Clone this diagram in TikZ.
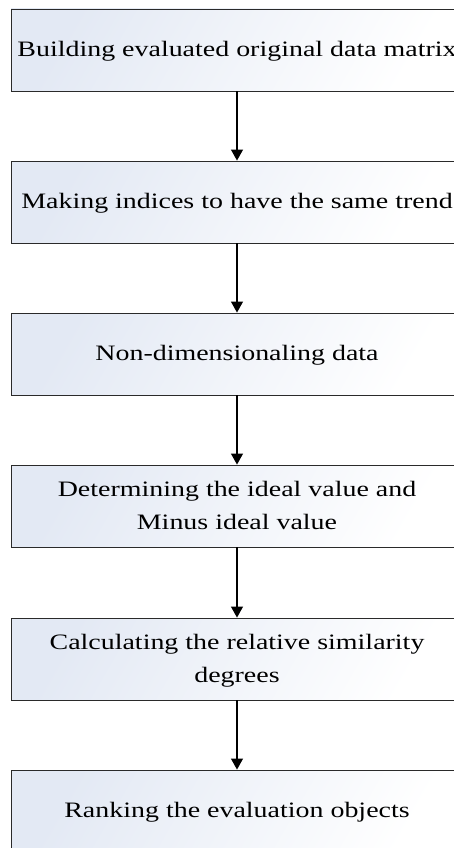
\documentclass[tikz,border=0pt]{standalone}
\usepackage{fontspec}
\setmainfont{Liberation Serif}
\usetikzlibrary{arrows.meta}
\definecolor{boxtint}{HTML}{E3E9F4}
\definecolor{boxline}{HTML}{2A2A2A}
\newcommand{\stxt}[1]{\scalebox{1.27}[1]{\begin{tabular}{@{}c@{}}#1\end{tabular}}}
\begin{document}
\begin{tikzpicture}[x=1pt,y=1pt,
  stepbox/.style={draw=boxline, line width=0.9pt, minimum width=452pt, minimum height=82pt,
    inner sep=0pt, left color=boxtint, right color=white, shading angle=60,
    font=\fontsize{22}{33}\selectfont},
  flow/.style={draw=black, line width=1.2pt, -{Triangle[length=11pt,width=12pt]}}]
\useasboundingbox (0,0) rectangle (454,-848);
\clip (0,0) rectangle (454,-848);
\node[stepbox] (b1) at (237,-50) {\stxt{Building evaluated original data matrix}};
\node[stepbox] (b2) at (237,-202) {\stxt{Making indices to have the same trend}};
\node[stepbox] (b3) at (237,-354) {\stxt{Non-dimensionaling data}};
\node[stepbox] (b4) at (237,-506) {\stxt{Determining the ideal value and\\Minus ideal value}};
\node[stepbox] (b5) at (237,-659) {\stxt{Calculating the relative similarity\\degrees}};
\node[stepbox] (b6) at (237,-811) {\stxt{Ranking the evaluation objects}};
\draw[flow] (b1) -- (b2);
\draw[flow] (b2) -- (b3);
\draw[flow] (b3) -- (b4);
\draw[flow] (b4) -- (b5);
\draw[flow] (b5) -- (b6);
\end{tikzpicture}
\end{document}
